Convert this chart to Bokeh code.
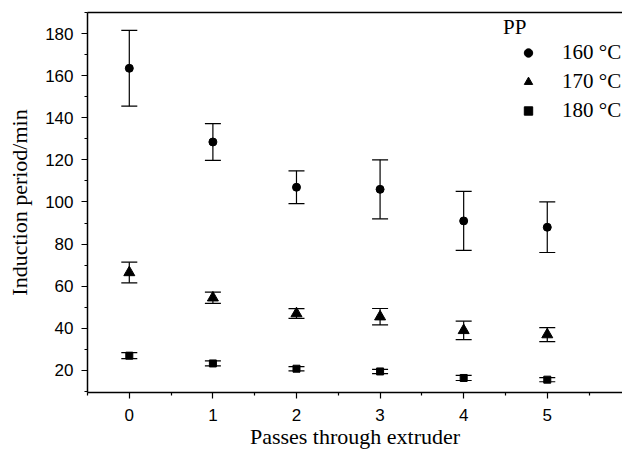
from bokeh.plotting import figure
from bokeh.models import (ColumnDataSource, Whisker, TeeHead, FixedTicker, Legend,
                          LegendItem, LinearAxis, Range1d)
from bokeh.embed import file_html
from bokeh.resources import INLINE

# ---- data ----
passes = [0, 1, 2, 3, 4, 5]
t160 = [163.5, 128.5, 107.0, 106.0, 91.0, 88.0]
e160 = [18.0, 8.7, 7.8, 14.0, 14.0, 12.0]
t170 = [66.5, 54.5, 47.0, 45.5, 39.0, 37.0]
e170 = [4.9, 2.7, 2.3, 3.9, 4.4, 3.3]
t180 = [27.0, 23.3, 20.8, 19.5, 16.4, 15.6]
e180 = [1.4, 1.2, 1.0, 1.0, 1.2, 1.0]
series_labels = ["160 °C", "170 °C", "180 °C"]
legend_title = "PP"
x_ticks = [0, 1, 2, 3, 4, 5]
x_minor = [-0.5, 0.5, 1.5, 2.5, 3.5, 4.5, 5.5]
y_ticks = [20, 40, 60, 80, 100, 120, 140, 160, 180]
y_minor = [10, 30, 50, 70, 90, 110, 130, 150, 170, 190]

SERIF = "Liberation Serif"
SANS = "Liberation Sans"

p = figure(width=622, height=454, output_backend="svg", toolbar_location=None,
           x_range=Range1d(-0.5, 5.90), y_range=Range1d(9.5, 190.0),
           min_border_left=87, min_border_right=0, min_border_top=12, min_border_bottom=62)
p.outline_line_color = None
p.grid.visible = False
p.background_fill_color = "white"

xax = p.below[0]
yax = p.left[0]

def src(vals, errs):
    return ColumnDataSource(dict(x=passes, y=vals,
                                 upper=[v + e for v, e in zip(vals, errs)],
                                 lower=[v - e for v, e in zip(vals, errs)]))

items = []
for vals, errs, marker, size, lab in [(t160, e160, "circle", 8, series_labels[0]),
                                      (t170, e170, "triangle", 11, series_labels[1]),
                                      (t180, e180, "square", 7, series_labels[2])]:
    s = src(vals, errs)
    w = Whisker(source=s, base="x", upper="upper", lower="lower", line_color="black",
                line_width=1.2,
                upper_head=TeeHead(size=16, line_color="black", line_width=1.2),
                lower_head=TeeHead(size=16, line_color="black", line_width=1.2))
    p.add_layout(w)
    r = p.scatter("x", "y", source=s, marker=marker, size=size, color="black")
    items.append(LegendItem(label=lab, renderers=[r]))

legend = Legend(items=items, location=(416, 269), title=legend_title,
                title_text_font=SERIF, title_text_font_size="21px",
                title_text_font_style="normal", title_text_color="black", title_standoff=0,
                label_text_font=SERIF, label_text_font_size="21px", label_text_color="black",
                glyph_width=50, glyph_height=21, label_height=21, label_standoff=9,
                spacing=4, padding=0, margin=0,
                border_line_color=None, background_fill_alpha=0)
p.add_layout(legend, "center")

# axes styling
for ax in [xax, yax]:
    ax.axis_line_width = 1.5
    ax.axis_line_color = "black"
    ax.major_tick_line_color = "black"
    ax.minor_tick_line_color = "black"
    ax.major_tick_line_width = 1.2
    ax.minor_tick_line_width = 1.2
    ax.major_tick_in = 0
    ax.major_tick_out = 6
    ax.minor_tick_in = 0
    ax.minor_tick_out = 3
    ax.major_label_text_font = SANS
    ax.major_label_text_font_size = "17px"
    ax.major_label_text_color = "black"
    ax.axis_label_text_font = SERIF
    ax.axis_label_text_font_size = "22px"
    ax.axis_label_text_font_style = "normal"
    ax.axis_label_text_color = "black"

xax.ticker = FixedTicker(ticks=x_ticks, minor_ticks=x_minor)
yax.ticker = FixedTicker(ticks=y_ticks, minor_ticks=y_minor)
xax.axis_label = "Passes through extruder"
yax.axis_label = "Induction period/min"
xax.major_label_standoff = 10
xax.axis_label_standoff = 0
yax.major_label_standoff = 8
yax.axis_label_standoff = 10

# top frame line (axis without visible ticks or labels)
top = LinearAxis(ticker=FixedTicker(ticks=x_ticks), major_label_text_alpha=0,
                 major_label_text_font_size="1px", major_label_standoff=0,
                 major_tick_out=0, major_tick_in=0, minor_tick_out=0, minor_tick_in=0,
                 axis_line_width=1.5, axis_line_color="black")
p.add_layout(top, "above")

open("out.html", "w").write(file_html(p, INLINE))
